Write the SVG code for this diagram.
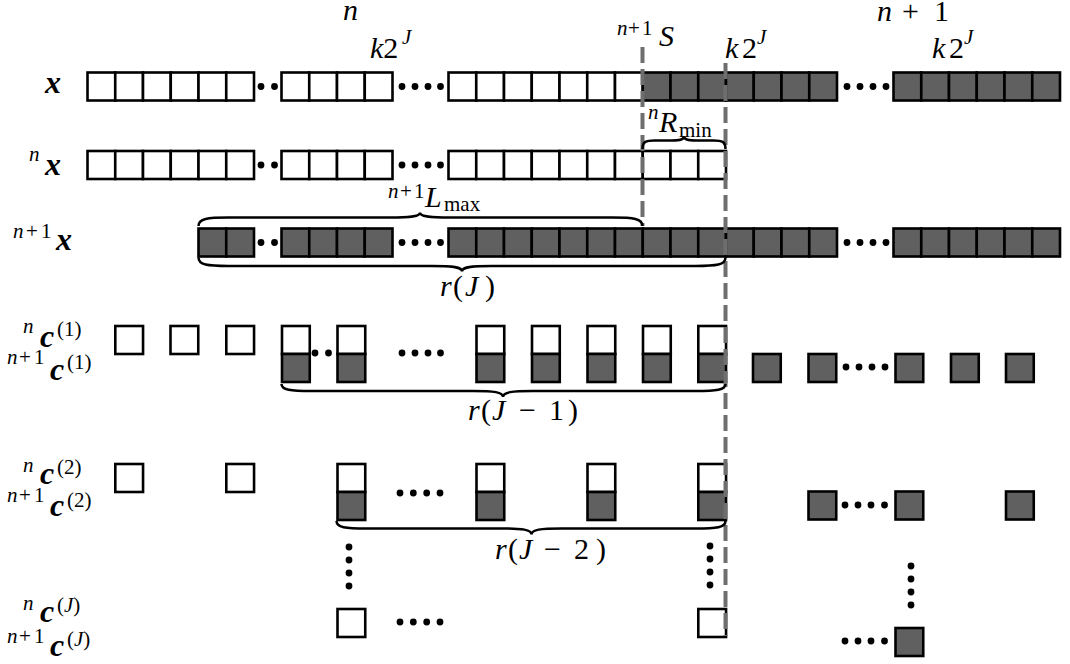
<svg xmlns="http://www.w3.org/2000/svg" width="1070" height="664" viewBox="0 0 1070 664">
<style>
.w{fill:#fff;stroke:#000;stroke-width:2.6}
.g{fill:#606060;stroke:#000;stroke-width:2.6}
.d{fill:#000}
.br{fill:none;stroke:#000;stroke-width:2.5}
.dash{stroke:#6e6e6e;stroke-width:4;stroke-dasharray:16 6;fill:none}
text{font-family:"Liberation Serif","Times New Roman",serif;font-style:italic;font-size:30px;fill:#000}
.s{font-size:21px}
.u{font-style:normal}
.b{font-weight:bold}
.c{font-size:32px}
</style>
<defs>
<rect id="W" width="27.75" height="28" class="w"/>
<rect id="G" width="27.75" height="28" class="g"/>
<circle id="D" r="3.4" class="d"/>
</defs>
<rect width="1070" height="664" fill="#fff"/>

<g id="header-labels">
<text x="343" y="20">n</text>
<text x="370" y="58">k<tspan class="u">2</tspan><tspan class="s" x="402" y="44">J</tspan></text>
<text class="s" x="617" y="35">n<tspan class="u" x="628">+</tspan><tspan class="u" x="642">1</tspan></text>
<text x="659" y="46">S</text>
<text x="725" y="58">k<tspan class="u" x="742">2</tspan><tspan class="s" x="757" y="44">J</tspan></text>
<text x="877" y="21">n<tspan class="u" x="902">+</tspan><tspan class="u" x="934">1</tspan></text>
<text x="932" y="58">k<tspan class="u" x="949">2</tspan><tspan class="s" x="964" y="44">J</tspan></text>
</g>

<g id="label-x"><text class="b c" x="45" y="93">x</text></g>
<g id="label-nx"><text class="s" x="29" y="161">n</text><text class="b c" x="45" y="175">x</text></g>
<g id="label-n1x"><text class="s" x="13" y="238">n<tspan class="u" x="26">+</tspan><tspan class="u" x="41">1</tspan></text><text class="b c" x="56" y="250">x</text></g>

<g id="label-c1">
<text class="s" x="23" y="333">n</text><text class="b c" x="40" y="347">c</text><text class="s u" x="57" y="336">(1)</text>
<text class="s" x="7" y="364">n<tspan class="u" x="19">+</tspan><tspan class="u" x="34">1</tspan></text><text class="b c" x="50" y="380">c</text><text class="s u" x="67" y="369">(1)</text>
</g>
<g id="label-c2">
<text class="s" x="23" y="472">n</text><text class="b c" x="40" y="484">c</text><text class="s u" x="57" y="474">(2)</text>
<text class="s" x="7" y="502">n<tspan class="u" x="19">+</tspan><tspan class="u" x="34">1</tspan></text><text class="b c" x="50" y="516">c</text><text class="s u" x="67" y="507">(2)</text>
</g>
<g id="label-cJ">
<text class="s" x="23" y="610">n</text><text class="b c" x="40" y="622">c</text><text class="s" x="57" y="612"><tspan class="u">(</tspan>J<tspan class="u">)</tspan></text>
<text class="s" x="7" y="643">n<tspan class="u" x="19">+</tspan><tspan class="u" x="34">1</tspan></text><text class="b c" x="50" y="656">c</text><text class="s" x="67" y="646"><tspan class="u">(</tspan>J<tspan class="u">)</tspan></text>
</g>

<g id="row-x">
<use href="#W" x="87.5" y="72.5"/><use href="#W" x="115.25" y="72.5"/><use href="#W" x="143" y="72.5"/><use href="#W" x="170.75" y="72.5"/><use href="#W" x="198.5" y="72.5"/><use href="#W" x="226.25" y="72.5"/>
<use href="#W" x="281.5" y="72.5"/><use href="#W" x="309.25" y="72.5"/><use href="#W" x="337" y="72.5"/><use href="#W" x="364.75" y="72.5"/>
<use href="#W" x="448.5" y="72.5"/><use href="#W" x="476.25" y="72.5"/><use href="#W" x="504" y="72.5"/><use href="#W" x="531.75" y="72.5"/><use href="#W" x="559.5" y="72.5"/><use href="#W" x="587.25" y="72.5"/><use href="#W" x="615" y="72.5"/>
<use href="#G" x="642.75" y="72.5"/><use href="#G" x="670.5" y="72.5"/><use href="#G" x="698.25" y="72.5"/><use href="#G" x="726" y="72.5"/><use href="#G" x="753.75" y="72.5"/><use href="#G" x="781.5" y="72.5"/><use href="#G" x="809.25" y="72.5"/>
<use href="#G" x="893.5" y="72.5"/><use href="#G" x="921.25" y="72.5"/><use href="#G" x="949" y="72.5"/><use href="#G" x="976.75" y="72.5"/><use href="#G" x="1004.5" y="72.5"/><use href="#G" x="1032.25" y="72.5"/>
<use href="#D" x="261" y="86.5"/><use href="#D" x="274.5" y="86.5"/>
<use href="#D" x="402" y="86.5"/><use href="#D" x="415" y="86.5"/><use href="#D" x="428" y="86.5"/><use href="#D" x="440.5" y="86.5"/>
<use href="#D" x="847" y="86.5"/><use href="#D" x="860" y="86.5"/><use href="#D" x="873" y="86.5"/><use href="#D" x="886" y="86.5"/>
</g>

<g id="row-nx">
<use href="#W" x="87.5" y="151"/><use href="#W" x="115.25" y="151"/><use href="#W" x="143" y="151"/><use href="#W" x="170.75" y="151"/><use href="#W" x="198.5" y="151"/><use href="#W" x="226.25" y="151"/>
<use href="#W" x="281.5" y="151"/><use href="#W" x="309.25" y="151"/><use href="#W" x="337" y="151"/><use href="#W" x="364.75" y="151"/>
<use href="#W" x="448.5" y="151"/><use href="#W" x="476.25" y="151"/><use href="#W" x="504" y="151"/><use href="#W" x="531.75" y="151"/><use href="#W" x="559.5" y="151"/><use href="#W" x="587.25" y="151"/><use href="#W" x="615" y="151"/><use href="#W" x="642.75" y="151"/><use href="#W" x="670.5" y="151"/><use href="#W" x="698.25" y="151"/>
<use href="#D" x="261" y="165"/><use href="#D" x="274.5" y="165"/>
<use href="#D" x="402" y="165"/><use href="#D" x="415" y="165"/><use href="#D" x="428" y="165"/><use href="#D" x="440.5" y="165"/>
</g>

<g id="row-n1x">
<use href="#G" x="198.5" y="228.5"/><use href="#G" x="226.25" y="228.5"/>
<use href="#G" x="281.5" y="228.5"/><use href="#G" x="309.25" y="228.5"/><use href="#G" x="337" y="228.5"/><use href="#G" x="364.75" y="228.5"/>
<use href="#G" x="448.5" y="228.5"/><use href="#G" x="476.25" y="228.5"/><use href="#G" x="504" y="228.5"/><use href="#G" x="531.75" y="228.5"/><use href="#G" x="559.5" y="228.5"/><use href="#G" x="587.25" y="228.5"/><use href="#G" x="615" y="228.5"/><use href="#G" x="642.75" y="228.5"/><use href="#G" x="670.5" y="228.5"/><use href="#G" x="698.25" y="228.5"/><use href="#G" x="726" y="228.5"/><use href="#G" x="753.75" y="228.5"/><use href="#G" x="781.5" y="228.5"/><use href="#G" x="809.25" y="228.5"/>
<use href="#G" x="893.5" y="228.5"/><use href="#G" x="921.25" y="228.5"/><use href="#G" x="949" y="228.5"/><use href="#G" x="976.75" y="228.5"/><use href="#G" x="1004.5" y="228.5"/><use href="#G" x="1032.25" y="228.5"/>
<use href="#D" x="261" y="242.5"/><use href="#D" x="274.5" y="242.5"/>
<use href="#D" x="402" y="242.5"/><use href="#D" x="415" y="242.5"/><use href="#D" x="428" y="242.5"/><use href="#D" x="440.5" y="242.5"/>
<use href="#D" x="847" y="242.5"/><use href="#D" x="860" y="242.5"/><use href="#D" x="873" y="242.5"/><use href="#D" x="886" y="242.5"/>
</g>

<g id="row-c1">
<use href="#W" x="115.3" y="326"/><use href="#W" x="170.5" y="326"/><use href="#W" x="226.3" y="326"/>
<use href="#W" x="282" y="326"/><use href="#W" x="337.5" y="326"/><use href="#W" x="476.5" y="326"/><use href="#W" x="532" y="326"/><use href="#W" x="587.5" y="326"/><use href="#W" x="643" y="326"/><use href="#W" x="698.3" y="326"/>
<use href="#G" x="282" y="354"/><use href="#G" x="337.5" y="354"/><use href="#G" x="476.5" y="354"/><use href="#G" x="532" y="354"/><use href="#G" x="587.5" y="354"/><use href="#G" x="643" y="354"/><use href="#G" x="698.3" y="354"/>
<use href="#G" x="753" y="354"/><use href="#G" x="808.5" y="354"/><use href="#G" x="895.5" y="354"/><use href="#G" x="951" y="354"/><use href="#G" x="1006" y="354"/>
<use href="#D" x="315" y="353"/><use href="#D" x="328.5" y="353"/>
<use href="#D" x="402" y="353"/><use href="#D" x="415" y="353"/><use href="#D" x="428" y="353"/><use href="#D" x="440.5" y="353"/>
<use href="#D" x="846" y="367"/><use href="#D" x="859" y="367"/><use href="#D" x="872" y="367"/><use href="#D" x="885" y="367"/>
</g>

<g id="row-c2">
<use href="#W" x="115.3" y="464"/><use href="#W" x="226.3" y="464"/>
<use href="#W" x="337.5" y="464"/><use href="#W" x="476.5" y="464"/><use href="#W" x="587.5" y="464"/><use href="#W" x="698.3" y="464"/>
<use href="#G" x="337.5" y="492"/><use href="#G" x="476.5" y="492"/><use href="#G" x="587.5" y="492"/><use href="#G" x="698.3" y="492"/>
<use href="#G" x="808.5" y="491.5"/><use href="#G" x="895.5" y="491.5"/><use href="#G" x="1006" y="491.5"/>
<use href="#D" x="400" y="493"/><use href="#D" x="413.3" y="493"/><use href="#D" x="426.7" y="493"/><use href="#D" x="440" y="493"/>
<use href="#D" x="845" y="505"/><use href="#D" x="858" y="505"/><use href="#D" x="871" y="505"/><use href="#D" x="884.5" y="505"/>
</g>

<g id="vdots">
<use href="#D" x="349" y="547"/><use href="#D" x="349" y="560"/><use href="#D" x="349" y="573"/><use href="#D" x="349" y="586"/>
<use href="#D" x="710" y="546"/><use href="#D" x="710" y="559"/><use href="#D" x="710" y="572"/><use href="#D" x="710" y="585"/>
<use href="#D" x="911" y="566"/><use href="#D" x="911" y="579"/><use href="#D" x="911" y="592"/><use href="#D" x="911" y="605"/>
</g>

<g id="row-cJ">
<use href="#W" x="337.5" y="609"/><use href="#W" x="698.3" y="609"/>
<use href="#G" x="895.5" y="628"/>
<use href="#D" x="400" y="622"/><use href="#D" x="413.3" y="622"/><use href="#D" x="426.7" y="622"/><use href="#D" x="440" y="622"/>
<use href="#D" x="845" y="641"/><use href="#D" x="858" y="641"/><use href="#D" x="871" y="641"/><use href="#D" x="884.5" y="641"/>
</g>

<g id="connectors">
<line class="dash" x1="642.5" y1="47" x2="642.5" y2="226"/>
<line class="dash" x1="725.5" y1="63" x2="725.5" y2="636"/>
<path class="br" d="M642.5,149 C642.5,141.5 646,140.5 654.5,140.5 L672,140.5 C680.5,140.5 684,139.5 684,136 C684,139.5 687.5,140.5 696,140.5 L713.5,140.5 C722,140.5 725.5,141.5 725.5,149"/>
<path class="br" d="M198.5,226 C198.5,218.5 207.5,217.5 228.5,217.5 L390,217.5 C411,217.5 420,216.5 420,212.5 C420,216.5 429,217.5 450,217.5 L612.5,217.5 C633.5,217.5 642.5,218.5 642.5,226"/>
<path class="br" d="M198.5,257.5 C198.5,265 207.5,266 228.5,266 L432,266 C453,266 462,267 462,271.5 C462,267 471,266 492,266 L695.5,266 C716.5,266 725.5,265 725.5,257.5"/>
<path class="br" d="M281.5,384 C281.5,390 290.5,391 311.5,391 L473,391 C494,391 503,392 503,397 C503,392 512,391 533,391 L695.5,391 C716.5,391 725.5,390 725.5,384"/>
<path class="br" d="M336.5,521 C336.5,527.5 345.5,528.5 366.5,528.5 L501.5,528.5 C522.5,528.5 531.5,529.5 531.5,534.5 C531.5,529.5 540.5,528.5 561.5,528.5 L695.5,528.5 C716.5,528.5 725.5,527.5 725.5,521"/>
</g>

<g id="brace-labels">
<text class="s" x="648" y="119">n</text><text x="659" y="132">R</text><text class="s u" x="679" y="137">min</text>
<text class="s" x="388" y="198">n<tspan class="u" x="400">+</tspan><tspan class="u" x="414">1</tspan></text><text x="425" y="207">L</text><text class="s u" x="444" y="211">max</text>
<text x="440" y="296">r<tspan class="u" x="453">(</tspan><tspan x="465">J</tspan><tspan class="u" x="485">)</tspan></text>
<text x="468" y="420">r<tspan class="u" x="481">(</tspan><tspan x="492">J</tspan><tspan class="u" x="519">−</tspan><tspan class="u" x="549">1</tspan><tspan class="u" x="568">)</tspan></text>
<text x="495" y="559">r<tspan class="u" x="508">(</tspan><tspan x="519">J</tspan><tspan class="u" x="544">−</tspan><tspan class="u" x="574">2</tspan><tspan class="u" x="596">)</tspan></text>
</g>
</svg>
